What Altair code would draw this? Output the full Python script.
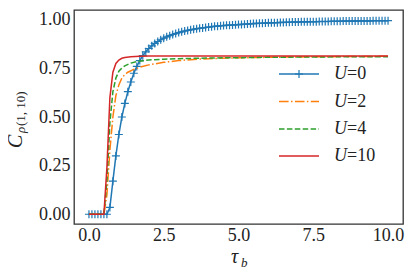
import altair as alt
import numpy as np
import pandas as pd

# ---- data ----
tau_u0 = np.round(np.arange(0, 10.001, 0.1), 1)
c_u0 = [0, 0, 0, 0, 0, 0, 0, 0.035, 0.17, 0.30,
        0.41, 0.50, 0.57, 0.63, 0.68, 0.725, 0.76, 0.79, 0.815, 0.835,
        0.852, 0.866, 0.878, 0.888, 0.897, 0.905, 0.912, 0.918, 0.924, 0.929,
        0.934, 0.938, 0.942, 0.945, 0.948, 0.951, 0.954, 0.956, 0.958, 0.960,
        0.962, 0.964, 0.966, 0.967, 0.969, 0.970, 0.971, 0.972, 0.973, 0.974,
        0.975, 0.976, 0.977, 0.978, 0.979, 0.980, 0.981, 0.982, 0.982, 0.983,
        0.984, 0.984, 0.985, 0.985, 0.986, 0.986, 0.987, 0.987, 0.988, 0.988,
        0.988, 0.989, 0.989, 0.989, 0.990, 0.990, 0.990, 0.991, 0.991, 0.991,
        0.991, 0.992, 0.992, 0.992, 0.992, 0.993, 0.993, 0.993, 0.993, 0.993,
        0.994, 0.994, 0.994, 0.994, 0.994, 0.995, 0.995, 0.995, 0.995, 0.995,
        0.995]

tau_u2 = [0, 0.5, 0.6, 0.7, 0.8, 0.9, 1.0, 1.1, 1.2, 1.3, 1.5, 1.75, 2.0, 2.5,
          3.0, 3.5, 4.0, 5.0, 6.0, 7.0, 8.0, 9.0, 10.0]
c_u2 = [0, 0, 0.10, 0.33, 0.50, 0.61, 0.665, 0.70, 0.718, 0.73, 0.745, 0.758,
        0.768, 0.781, 0.79, 0.796, 0.80, 0.804, 0.807, 0.809, 0.81, 0.811, 0.812]

tau_u4 = [0, 0.5, 0.6, 0.7, 0.8, 0.9, 1.0, 1.1, 1.2, 1.4, 1.6, 2.0, 2.5, 3.0,
          4.0, 5.0, 6.0, 7.0, 8.0, 9.0, 10.0]
c_u4 = [0, 0, 0.17, 0.47, 0.63, 0.70, 0.735, 0.752, 0.763, 0.777, 0.785, 0.793,
        0.797, 0.80, 0.803, 0.805, 0.807, 0.808, 0.809, 0.81, 0.81]

tau_u10 = [0, 0.5, 0.6, 0.7, 0.8, 0.9, 1.0, 1.1, 1.2, 1.4, 1.7, 2.0, 3.0, 5.0,
           7.5, 10.0]
c_u10 = [0, 0, 0.24, 0.60, 0.73, 0.775, 0.793, 0.802, 0.806, 0.81, 0.812, 0.813,
         0.814, 0.814, 0.814, 0.814]

legend_labels = ["0", "2", "4", "10"]
colors = ["#1f77b4", "#ff7f0e", "#2ca02c", "#d62728"]

x_ticks = [0, 2.5, 5, 7.5, 10]
y_ticks = [0, 0.25, 0.5, 0.75, 1.0]

FONT = "Liberation Serif, Times New Roman, DejaVu Serif, serif"

xs = alt.Scale(domain=[-0.5, 10.5], nice=False, zero=False)
ys = alt.Scale(domain=[-0.05, 1.05], nice=False, zero=False)
xa = alt.Axis(values=x_ticks, format=".1f", title=None, labelPadding=2,
              labelFont=FONT, labelFontSize=18, labelColor="#222222")
ya = alt.Axis(values=y_ticks, format=".2f", title=None, labelPadding=4,
              labelFont=FONT, labelFontSize=18, labelColor="#222222")


def enc(ch):
    return ch.encode(
        x=alt.X("tau:Q", scale=xs, axis=xa),
        y=alt.Y("c:Q", scale=ys, axis=ya),
    )


df0 = pd.DataFrame({"tau": tau_u0, "c": c_u0})
df2 = pd.DataFrame({"tau": tau_u2, "c": c_u2})
df4 = pd.DataFrame({"tau": tau_u4, "c": c_u4})
df10 = pd.DataFrame({"tau": tau_u10, "c": c_u10})

plus = "M-1,0L1,0M0,-1L0,1"
dashes = [None, [9.6, 2.4, 1.5, 2.4], [5.5, 2.4], None]

layers = [
    enc(alt.Chart(df0).mark_line(color=colors[0], strokeWidth=1.5)),
    enc(alt.Chart(df0).mark_point(shape=plus, filled=False, size=64,
                                   strokeWidth=1.2, color=colors[0], opacity=1)),
    enc(alt.Chart(df2).mark_line(color=colors[1], strokeWidth=1.5,
                                 strokeDash=dashes[1])),
    enc(alt.Chart(df4).mark_line(color=colors[2], strokeWidth=1.5,
                                 strokeDash=dashes[2])),
    enc(alt.Chart(df10).mark_line(color=colors[3], strokeWidth=1.5)),
]

# ---- legend (manual, to mix italic U with upright digits) ----
anchor = pd.DataFrame({"k": [0]})
leg_y = [64, 91.5, 119, 146]
for i, lab in enumerate(legend_labels):
    yv = leg_y[i]
    rule_kw = dict(color=colors[i], strokeWidth=1.5)
    if dashes[i] is not None:
        rule_kw["strokeDash"] = dashes[i]
    layers.append(alt.Chart(anchor).mark_rule(**rule_kw).encode(
        x=alt.value(205), x2=alt.value(245), y=alt.value(yv)))
    if i == 0:
        layers.append(alt.Chart(anchor).mark_point(
            shape=plus, filled=False, size=64, strokeWidth=1.2,
            color=colors[0], opacity=1).encode(x=alt.value(225), y=alt.value(yv)))
    layers.append(alt.Chart(anchor).mark_text(
        text="U", font=FONT, fontStyle="italic", fontSize=18, align="left",
        baseline="middle", color="#222222").encode(x=alt.value(260), y=alt.value(yv)))
    layers.append(alt.Chart(anchor).mark_text(
        text="=" + lab, font=FONT, fontSize=18, align="left",
        baseline="middle", color="#222222").encode(x=alt.value(273), y=alt.value(yv)))

# ---- axis titles ----
layers.append(alt.Chart(anchor).mark_text(
    text="C", font=FONT, fontStyle="italic", fontSize=20, angle=270, align="left",
    baseline="alphabetic", color="#222222").encode(x=alt.value(-52), y=alt.value(138)))
layers.append(alt.Chart(anchor).mark_text(
    text="ρ", font=FONT, fontStyle="italic", fontSize=13, angle=270, align="left",
    baseline="alphabetic", color="#222222").encode(x=alt.value(-49.5), y=alt.value(123)))
layers.append(alt.Chart(anchor).mark_text(
    text="(1, 10)", font=FONT, fontSize=13, angle=270, align="left",
    baseline="alphabetic", color="#222222").encode(x=alt.value(-49.5), y=alt.value(116)))
layers.append(alt.Chart(anchor).mark_text(
    text="τ", font=FONT, fontStyle="italic", fontSize=20, align="left",
    baseline="alphabetic", color="#222222").encode(x=alt.value(157), y=alt.value(253)))
layers.append(alt.Chart(anchor).mark_text(
    text="b", font=FONT, fontStyle="italic", fontSize=13, align="left",
    baseline="alphabetic", color="#222222").encode(x=alt.value(167), y=alt.value(257)))

chart = alt.layer(*layers).properties(
    width=329, height=214, autosize="none",
    padding={"left": 66, "top": 2, "right": 4, "bottom": 45},
    background="white",
).configure_view(
    stroke="#333333", strokeWidth=1.3
).configure_axis(
    domain=False, ticks=False, grid=False,
    labelFont=FONT, labelFontSize=18, labelColor="#222222",
)

chart.save("out.html", embed_options={"renderer": "svg", "actions": False})
